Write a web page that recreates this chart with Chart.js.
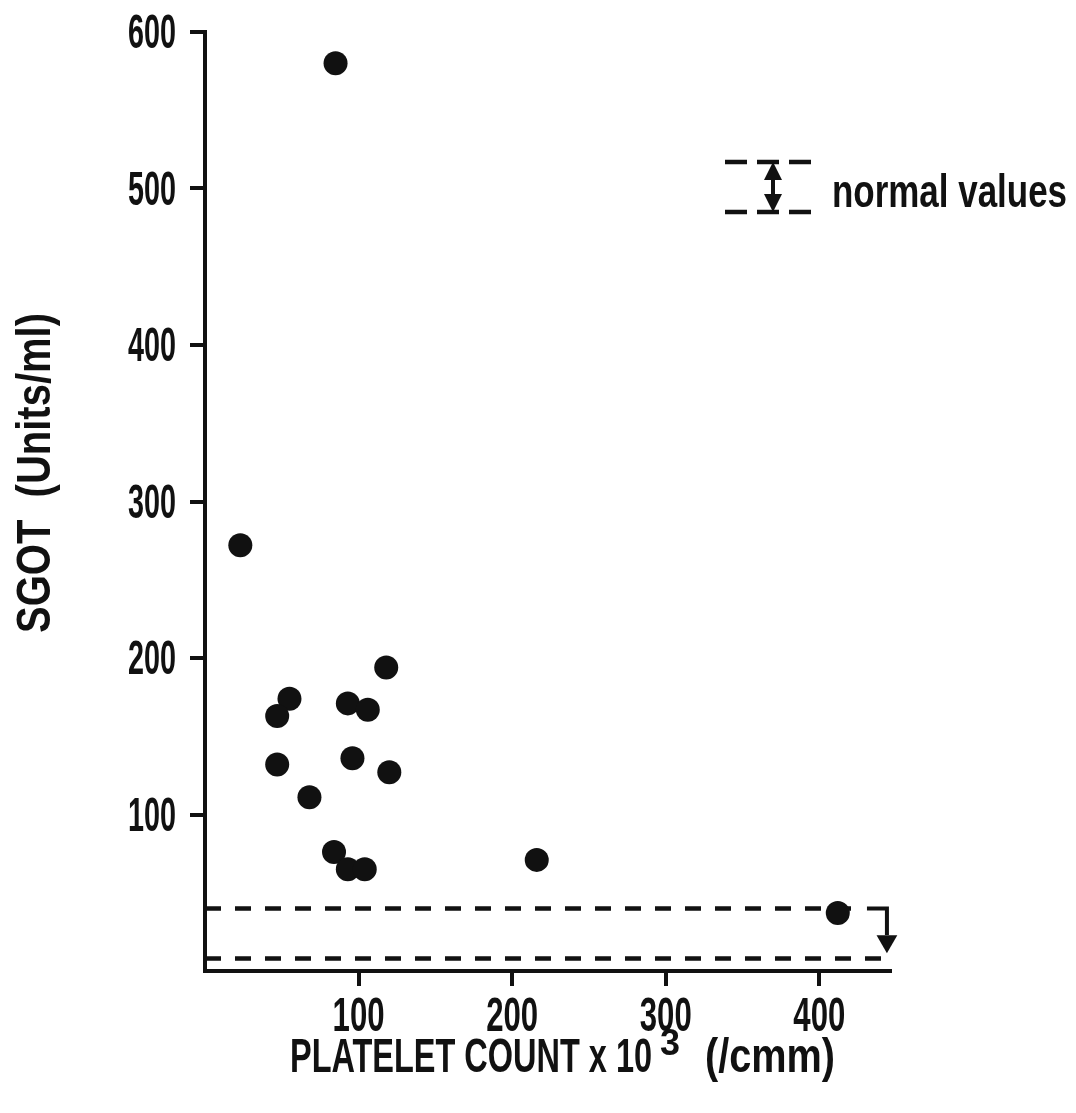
<!DOCTYPE html>
<html>
<head>
<meta charset="utf-8">
<title>SGOT vs platelet count</title>
<script src="https://cdn.jsdelivr.net/npm/chart.js@4.4.1/dist/chart.umd.min.js"></script>
<style>
  body { margin: 0; background: #fff; }
  canvas { display: block; }
</style>
</head>
<body>
<canvas id="mycanvas" width="1076" height="1113"></canvas>
<script>
// platelet count (x 10^3 /cmm) and SGOT (units/ml) per patient
var platelets = [85, 23, 118, 55, 47, 93, 106, 47, 96, 120, 68, 84, 93, 104, 216, 412];
var sgot      = [580, 272, 194, 174, 163, 171, 167, 132, 136, 127, 111, 76, 65, 65, 71, 37];

var xTicks = [100, 200, 300, 400];
var yTicks = [100, 200, 300, 400, 500, 600];

// normal SGOT range, low / high
var normalRange = [8, 40];

var ink = '#111';
var font = 'bold 49px "Liberation Sans", Arial, sans-serif';

var points = [];
for (var i in platelets) {
  points.push({x: platelets[i], y: sgot[i]});
}

// draw text squeezed to a given width (narrow typeface look)
function fitText(ctx, text, x, y, width, align) {
  var w = ctx.measureText(text).width;
  ctx.save();
  ctx.translate(x, y);
  ctx.scale(width / w, 1);
  ctx.textAlign = align;
  ctx.fillText(text, 0, 0);
  ctx.restore();
}

var labelsPlugin = {
  id: 'labels',
  afterDraw: function (chart) {
    var ctx = chart.ctx;
    var xs = chart.scales.x, ys = chart.scales.y;
    ctx.save();
    ctx.fillStyle = ink;
    ctx.font = font;
    ctx.textBaseline = 'alphabetic';

    yTicks.forEach(function (v) {
      fitText(ctx, String(v), 176, ys.getPixelForValue(v) + 16, 48, 'right');
    });
    xTicks.forEach(function (v) {
      fitText(ctx, String(v), xs.getPixelForValue(v), chart.chartArea.bottom + 60, 52, 'center');
    });

    // y title
    ctx.save();
    ctx.translate(50, 473);
    ctx.rotate(-Math.PI / 2);
    fitText(ctx, 'SGOT  (Units/ml)', 0, 0, 320, 'center');
    ctx.restore();

    // x title with superscript exponent
    var base = chart.chartArea.bottom + 101;
    fitText(ctx, 'PLATELET COUNT x 10', 290, base, 362, 'left');
    ctx.font = 'bold 36px "Liberation Sans", Arial, sans-serif';
    fitText(ctx, '3', 660, base - 17, 20, 'left');
    ctx.font = font;
    fitText(ctx, '(/cmm)', 705, base, 130, 'left');

    // legend: dashed pair with double arrow
    ctx.strokeStyle = ink;
    ctx.lineWidth = 4.5;
    ctx.setLineDash([22, 10]);
    ctx.beginPath();
    ctx.moveTo(725, 162); ctx.lineTo(812, 162);
    ctx.moveTo(725, 212); ctx.lineTo(812, 212);
    ctx.stroke();
    ctx.setLineDash([]);
    ctx.lineWidth = 4;
    ctx.beginPath();
    ctx.moveTo(773, 175); ctx.lineTo(773, 200);
    ctx.stroke();
    ctx.beginPath();
    ctx.moveTo(773, 162); ctx.lineTo(764, 180); ctx.lineTo(782, 180); ctx.closePath();
    ctx.moveTo(773, 212); ctx.lineTo(764, 194); ctx.lineTo(782, 194); ctx.closePath();
    ctx.fill();
    ctx.font = 'bold 46px "Liberation Sans", Arial, sans-serif';
    fitText(ctx, 'normal values', 832, 207, 235, 'left');
    ctx.restore();
  }
};

var ctx = document.getElementById('mycanvas').getContext('2d');
var myChart = new Chart(ctx, {
  type: 'scatter',
  data: {
    datasets: [{
      label: 'patients',
      data: points,
      pointRadius: 12,
      pointHoverRadius: 12,
      backgroundColor: ink,
      borderWidth: 0
    }, {
      // upper normal limit
      type: 'line',
      data: [{x: 0, y: normalRange[1]}, {x: 425, y: normalRange[1]}],
      borderColor: ink,
      borderWidth: 4.5,
      borderDash: [16, 14],
      pointRadius: 0
    }, {
      // lower normal limit
      type: 'line',
      data: [{x: 0, y: normalRange[0]}, {x: 447, y: normalRange[0]}],
      borderColor: ink,
      borderWidth: 4.5,
      borderDash: [16, 14],
      pointRadius: 0
    }, {
      // bracket down to lower limit
      type: 'line',
      data: [{x: 431, y: normalRange[1]}, {x: 444, y: normalRange[1]}, {x: 444, y: 23}],
      borderColor: ink,
      borderWidth: 4,
      pointRadius: 0
    }, {
      type: 'scatter',
      data: [{x: 444, y: 19}],
      pointStyle: 'triangle',
      rotation: 180,
      pointRadius: 12,
      backgroundColor: ink,
      borderWidth: 0
    }]
  },
  options: {
    responsive: false,
    animation: false,
    clip: false,
    layout: { padding: { top: 32, right: 186, left: 0, bottom: 0 } },
    plugins: { legend: { display: false }, tooltip: { enabled: false } },
    scales: {
      x: {
        type: 'linear',
        min: 0,
        max: 446,
        afterBuildTicks: function (scale) {
          scale.ticks = xTicks.map(function (v) { return {value: v}; });
        },
        afterFit: function (scale) { scale.height = 142; },
        ticks: { display: false },
        grid: { display: true, drawOnChartArea: false, drawTicks: true, tickLength: 15, lineWidth: 4, color: ink },
        border: { display: true, width: 4, color: ink }
      },
      y: {
        min: 0,
        max: 600,
        afterBuildTicks: function (scale) {
          scale.ticks = yTicks.map(function (v) { return {value: v}; });
        },
        afterFit: function (scale) { scale.width = 205; },
        ticks: { display: false },
        grid: { display: true, drawOnChartArea: false, drawTicks: true, tickLength: 15, lineWidth: 4, color: ink },
        border: { display: true, width: 4, color: ink }
      }
    }
  },
  plugins: [labelsPlugin]
});
</script>
</body>
</html>
